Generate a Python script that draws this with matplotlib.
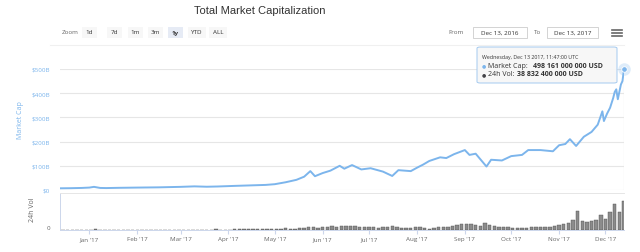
import pandas as pd
import matplotlib
matplotlib.use('Agg')
import matplotlib.pyplot as plt
from matplotlib.patches import Rectangle, FancyBboxPatch
from matplotlib.lines import Line2D

plt.rcParams['font.family'] = ['Open Sans', 'DejaVu Sans']

# total market cap, billions of USD
cap_dates = ['2016-12-13', '2016-12-20', '2016-12-27', '2017-01-01', '2017-01-04', '2017-01-08',
             '2017-01-12', '2017-01-20', '2017-02-01', '2017-02-15', '2017-03-01', '2017-03-10',
             '2017-03-18', '2017-03-25', '2017-04-05', '2017-04-15', '2017-04-25', '2017-05-01',
             '2017-05-08', '2017-05-15', '2017-05-20', '2017-05-24', '2017-05-27', '2017-06-01',
             '2017-06-06', '2017-06-12', '2017-06-15', '2017-06-20', '2017-06-26', '2017-07-02',
             '2017-07-10', '2017-07-16', '2017-07-20', '2017-07-28', '2017-08-01', '2017-08-05',
             '2017-08-09', '2017-08-16', '2017-08-20', '2017-08-25', '2017-09-01', '2017-09-04',
             '2017-09-08', '2017-09-15', '2017-09-18', '2017-09-25', '2017-10-01', '2017-10-08',
             '2017-10-12', '2017-10-20', '2017-10-28', '2017-11-01', '2017-11-05', '2017-11-08',
             '2017-11-12', '2017-11-17', '2017-11-22', '2017-11-26', '2017-11-29', '2017-11-30',
             '2017-12-02', '2017-12-04', '2017-12-06', '2017-12-07', '2017-12-08', '2017-12-09',
             '2017-12-11', '2017-12-12', '2017-12-13']
cap_values = [7, 7.5, 8.5, 10, 13, 8.5,
              8, 9, 10, 11, 13, 15,
              13.5, 14.5, 17, 19, 21, 24,
              32, 42, 55, 78, 57, 70,
              80, 100, 88, 103, 85, 90,
              76, 58, 82, 78, 92, 105,
              120, 135, 132, 148, 165, 145,
              150, 97, 125, 122, 140, 145,
              165, 165, 160, 185, 190, 210,
              182, 220, 240, 270, 325, 285,
              315, 340, 380, 405, 416, 375,
              436, 450, 498.161]

# 24h volume, billions of USD, every 3 days ending Dec 13 2017
vol_values = [0.3, 0.3, 0.3, 0.4, 0.3, 0.3,
              0.6, 0.9, 0.5, 0.4, 0.3, 0.3, 0.3, 0.3, 0.3, 0.3,
              0.3, 0.3, 0.3, 0.3, 0.3, 0.3, 0.3, 0.3, 0.3, 0.3,
              0.4, 0.5, 0.6, 0.5, 0.5, 0.5, 0.6, 1.2, 0.6, 0.5,
              0.6, 0.7, 0.7, 0.8, 1.5, 0.9, 1.0, 1.2, 1.0, 1.2,
              1.5, 2.0, 2.5, 1.8, 2.0, 2.8, 3.0, 4.5, 3.5, 3.0,
              3.5, 4.5, 5.0, 4.5, 6.0, 5.5, 6.0, 5.0, 4.5, 4.0,
              4.5, 4.0, 3.0, 3.5, 4.0, 5.0, 4.5, 3.0, 2.5, 3.0, 3.5,
              3.5, 2.5, 2.0, 2.5, 3.5, 4.0, 4.5, 5.5, 6.5, 7.5,
              8.5, 7.5, 7.0, 6.0, 9.0, 7.0, 5.0, 4.0, 4.5, 3.5,
              3.0, 2.5, 2.5, 3.0, 3.5, 3.5, 4.0, 4.0, 4.5, 5.0,
              6.5, 7.5, 9.0, 14.0, 26.0, 12.0, 11.0, 12.5, 14.0, 20.0,
              15.0, 24.0, 35.0, 25.0, 38.832]

cap_ticks = [0, 100, 200, 300, 400, 500]
cap_ticklabels = ['$0', '$100B', '$200B', '$300B', '$400B', '$500B']
zoom_buttons = ['1d', '7d', '1m', '3m', '1y', 'YTD', 'ALL']
range_from = 'Dec 13, 2016'
range_to = 'Dec 13, 2017'
tip_header = 'Wednesday, Dec 13 2017, 11:47:00 UTC'
tip_cap = '498 161 000 000 USD'
tip_vol = '38 832 400 000 USD'

cap_dates = pd.to_datetime(cap_dates)
vol_dates = pd.date_range(end='2017-12-13', periods=len(vol_values), freq='3D')
month_ticks = pd.date_range('2017-01-01', '2017-12-01', freq='MS')
month_labels = [d.strftime("%b '%y") for d in month_ticks]

W, H = 640, 253
def fx(x): return x / W
def fy(y): return 1 - y / H

BLUE = '#7cb5ec'
GREY = '#666666'

fig = plt.figure(figsize=(6.4, 2.53), dpi=100)
ax = fig.add_axes([fx(60), fy(191), (624 - 60) / W, (191 - 70) / H])
axv = fig.add_axes([fx(60), fy(231), (624 - 60) / W, (231 - 194) / H], sharex=ax)

# market cap pane
ax.plot(cap_dates, cap_values, color=BLUE, lw=1.4, solid_joinstyle='round')
ax.axvline(cap_dates[-1], color='#cccccc', lw=0.8, zorder=0)
ax.plot(cap_dates[-1], cap_values[-1], 'o', ms=9, color=BLUE, alpha=0.25, mec='none', clip_on=False)
ax.plot(cap_dates[-1], cap_values[-1], 'o', ms=4, color=BLUE, mec='white', mew=0.6, clip_on=False)
ax.set_ylim(0, 500)
ax.set_xlim(cap_dates[0], cap_dates[-1])
ax.set_yticks(cap_ticks)
ax.set_yticklabels(cap_ticklabels)
ax.yaxis.grid(True, color='#e6e6e6', lw=0.8)
ax.set_axisbelow(True)
ax.tick_params(axis='y', length=0, labelsize=4.5, labelcolor=BLUE, pad=7)
ax.tick_params(axis='x', bottom=False, labelbottom=False)
for s in ax.spines.values():
    s.set_visible(False)

# volume pane
axv.bar(vol_dates, vol_values, width=2.2, color='#8c8c8c', edgecolor='#4d4d4d', lw=0.3)
axv.set_ylim(0, 50)
axv.set_yticks([0])
axv.tick_params(axis='y', length=0, labelsize=4.5, labelcolor=GREY, pad=7)
for lbl in axv.get_yticklabels():
    lbl.set_va('bottom')
axv.set_xticks(month_ticks)
axv.set_xticklabels(month_labels)
axv.tick_params(axis='x', length=3, color='#ccd6eb', labelsize=4.5, labelcolor=GREY, pad=1.5)
axv.spines['right'].set_visible(False)
axv.spines['top'].set_color('#e6e6e6')
axv.spines['left'].set_color('#ccd6eb')
axv.spines['bottom'].set_color('#ccd6eb')
for s in axv.spines.values():
    s.set_linewidth(0.7)

fig.text(fx(21), fy(120), 'Market Cap', rotation=90, ha='center', va='center', fontsize=5, color=BLUE)
fig.text(fx(33), fy(210), '24h Vol', rotation=90, ha='center', va='center', fontsize=5, color=GREY)

# title
fig.text(fx(260), fy(11), 'Total Market Capitalization', ha='center', va='center', fontsize=8,
         color='#333333', family=['Liberation Sans'])

# range selector
fig.text(fx(70), fy(33), 'Zoom', ha='center', va='center', fontsize=4.5, color=GREY)
btn_x = [89, 114, 135, 155, 175, 197, 218]
for label, bx in zip(zoom_buttons, btn_x):
    sel = label == '1y'
    bw = 18 if len(label) > 2 else 15
    fig.patches.append(Rectangle((fx(bx - bw / 2), fy(39)), bw / W, 11 / H, transform=fig.transFigure,
                                 fc='#e6ebf5' if sel else '#f7f7f7', ec='none'))
    fig.text(fx(bx), fy(33), label, ha='center', va='center', fontsize=4.5, color='#333333',
             weight='bold' if sel else 'normal')

fig.text(fx(456), fy(33), 'From', ha='center', va='center', fontsize=4.5, color=GREY)
fig.text(fx(538), fy(33), 'To', ha='center', va='center', fontsize=4.5, color=GREY)
for (x0, x1), txt in zip([(473, 527), (547, 598)], [range_from, range_to]):
    fig.patches.append(Rectangle((fx(x0), fy(39)), (x1 - x0) / W, 11 / H, transform=fig.transFigure,
                                 fc='white', ec='#cccccc', lw=0.6))
    fig.text(fx((x0 + x1) / 2), fy(33.5), txt, ha='center', va='center', fontsize=4.5, color='#333333')
for yy in [30.5, 33.5, 36.5]:
    fig.add_artist(Line2D([fx(612), fx(622)], [fy(yy), fy(yy)], color=GREY, lw=1.2))
fig.add_artist(Line2D([fx(50), fx(624)], [fy(46), fy(46)], color='#f0f0f0', lw=0.8))

# tooltip
fig.patches.append(FancyBboxPatch((fx(477), fy(84)), (617 - 477) / W, (84 - 48) / H,
                                  boxstyle='round,pad=0,rounding_size=0.005', transform=fig.transFigure,
                                  fc='#f7f7f7', ec='#9fc7ef', lw=0.7, alpha=0.95))
fig.text(fx(482), fy(57), tip_header, ha='left', va='center', fontsize=3.8, color='#333333')
fig.text(fx(482), fy(66), '\u25cf', ha='left', va='center', fontsize=3.5, color=BLUE)
fig.text(fx(488), fy(66), 'Market Cap: ', ha='left', va='center', fontsize=5, color='#333333')
fig.text(fx(533), fy(66), tip_cap, ha='left', va='center', fontsize=5, color='#333333', weight='bold')
fig.text(fx(482), fy(74.5), '\u25cf', ha='left', va='center', fontsize=3.5, color='#434348')
fig.text(fx(488), fy(74.5), '24h Vol: ', ha='left', va='center', fontsize=5, color='#333333')
fig.text(fx(517), fy(74.5), tip_vol, ha='left', va='center', fontsize=5, color='#333333', weight='bold')

fig.savefig('out.png', dpi=100, facecolor='white')
